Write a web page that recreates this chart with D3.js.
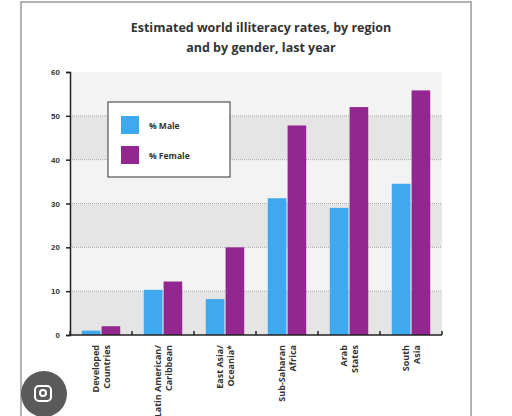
<!DOCTYPE html>
<html><head><meta charset="utf-8">
<script src="https://cdn.jsdelivr.net/npm/d3@7"></script>
<style>body{margin:0;background:#fff;font-family:"Open Sans",sans-serif;}</style>
</head><body>
<svg id="chart" width="512" height="416"></svg>
<script>
const regions = [["Developed", "Countries"], ["Latin American/", "Caribbean"], ["East Asia/", "Oceania*"],
  ["Sub-Saharan", "Africa"], ["Arab", "States"], ["South", "Asia"]];
const series = ["% Male", "% Female"];
const male = [1, 10.3, 8.2, 31.2, 29, 34.5];
const female = [2, 12.2, 20, 47.8, 52, 55.8];
const yTicks = [0, 10, 20, 30, 40, 50, 60];
const colors = ["#3fa9f0", "#92278f"];

const svg = d3.select("#chart");
// outer frame
svg.append("rect").attr("x", 21).attr("y", 2).attr("width", 450).attr("height", 420)
  .attr("fill", "#fff").attr("stroke", "#999").attr("stroke-width", 1.5);

svg.append("text").attr("x", 261).attr("y", 32).attr("text-anchor", "middle")
  .style("font-weight", "bold").style("font-size", "12.5px").attr("fill", "#333")
  .text("Estimated world illiteracy rates, by region");
svg.append("text").attr("x", 261).attr("y", 52).attr("text-anchor", "middle")
  .style("font-weight", "bold").style("font-size", "12.5px").attr("fill", "#333")
  .text("and by gender, last year");

const pLeft = 70, pRight = 442, pTop = 72, pBottom = 335;
const y = d3.scaleLinear().domain([0, 60]).range([pBottom, pTop]);
const x0 = d3.scaleBand().domain(d3.range(regions.length)).range([pLeft, pRight]).paddingInner(0.38).paddingOuter(0.19);
const x1 = d3.scaleBand().domain(d3.range(series.length)).range([0, x0.bandwidth()]).paddingInner(0.06);

// bands
svg.append("g").selectAll("rect").data(d3.range(6)).enter().append("rect")
  .attr("x", pLeft).attr("width", pRight - pLeft)
  .attr("y", d => y(d * 10 + 10)).attr("height", d => y(d * 10) - y(d * 10 + 10))
  .attr("fill", d => d % 2 === 0 ? "#e5e5e5" : "#f3f3f3");
// dotted grid
svg.append("g").selectAll("line").data(yTicks.slice(1, -1)).enter().append("line")
  .attr("x1", pLeft).attr("x2", pRight).attr("y1", d => y(d)).attr("y2", d => y(d))
  .attr("stroke", "#aaa").attr("stroke-dasharray", "1,1");

// bars
const g = svg.append("g").selectAll("g").data(regions.map((r, i) => [male[i], female[i]])).enter()
  .append("g").attr("transform", (d, i) => `translate(${x0(i)},0)`);
g.selectAll("rect").data(d => d).enter().append("rect")
  .attr("x", (d, j) => x1(j)).attr("width", x1.bandwidth())
  .attr("y", d => y(d)).attr("height", d => y(0) - y(d))
  .attr("fill", (d, j) => colors[j]);

// y axis
const ya = svg.append("g").attr("transform", `translate(${pLeft},0)`)
  .call(d3.axisLeft(y).tickValues(yTicks).tickSize(4).tickPadding(6));
ya.select(".domain").attr("stroke", "#222").attr("stroke-width", 1.5);
ya.selectAll(".tick line").attr("stroke", "#222").attr("stroke-width", 1.5);
ya.selectAll("text").style("font-weight", "bold").style("font-size", "8px").attr("fill", "#333");

// x axis
svg.append("line").attr("x1", pLeft).attr("x2", pRight).attr("y1", pBottom).attr("y2", pBottom)
  .attr("stroke", "#222").attr("stroke-width", 1.5);
const step = (pRight - pLeft) / regions.length;
svg.append("g").selectAll("line").data(d3.range(regions.length + 1)).enter().append("line")
  .attr("x1", d => pLeft + d * step).attr("x2", d => pLeft + d * step)
  .attr("y1", pBottom - 4).attr("y2", pBottom).attr("stroke", "#222").attr("stroke-width", 1.5);

const xl = svg.append("g").selectAll("g").data(regions).enter().append("g")
  .attr("transform", (d, i) => `translate(${x0(i) + x0.bandwidth() / 2},345) rotate(-90)`);
xl.selectAll("text").data(d => d).enter().append("text")
  .attr("x", 0).attr("y", (d, j) => j === 0 ? -2 : 9).attr("text-anchor", "end")
  .style("font-weight", "bold").style("font-size", "9px").attr("fill", "#333")
  .text(d => d);

// legend
const lg = svg.append("g");
lg.append("rect").attr("x", 108).attr("y", 102).attr("width", 122).attr("height", 75)
  .attr("fill", "#fff").attr("stroke", "#333").attr("stroke-width", 1);
series.forEach((s, i) => {
  lg.append("rect").attr("x", 121).attr("y", 116 + i * 30).attr("width", 18).attr("height", 18).attr("fill", colors[i]);
  lg.append("text").attr("x", 149).attr("y", 129 + i * 30).style("font-weight", "bold")
    .style("font-size", "8.5px").attr("fill", "#333").text(s);
});

// lens overlay button
svg.append("circle").attr("cx", 44).attr("cy", 394).attr("r", 23).attr("fill", "#5a5a5a");
svg.append("rect").attr("x", 35).attr("y", 386).attr("width", 16).attr("height", 15).attr("rx", 4)
  .attr("fill", "none").attr("stroke", "#fff").attr("stroke-width", 2);
svg.append("circle").attr("cx", 43).attr("cy", 393).attr("r", 3).attr("fill", "none").attr("stroke", "#fff").attr("stroke-width", 2);
</script>
</body></html>
